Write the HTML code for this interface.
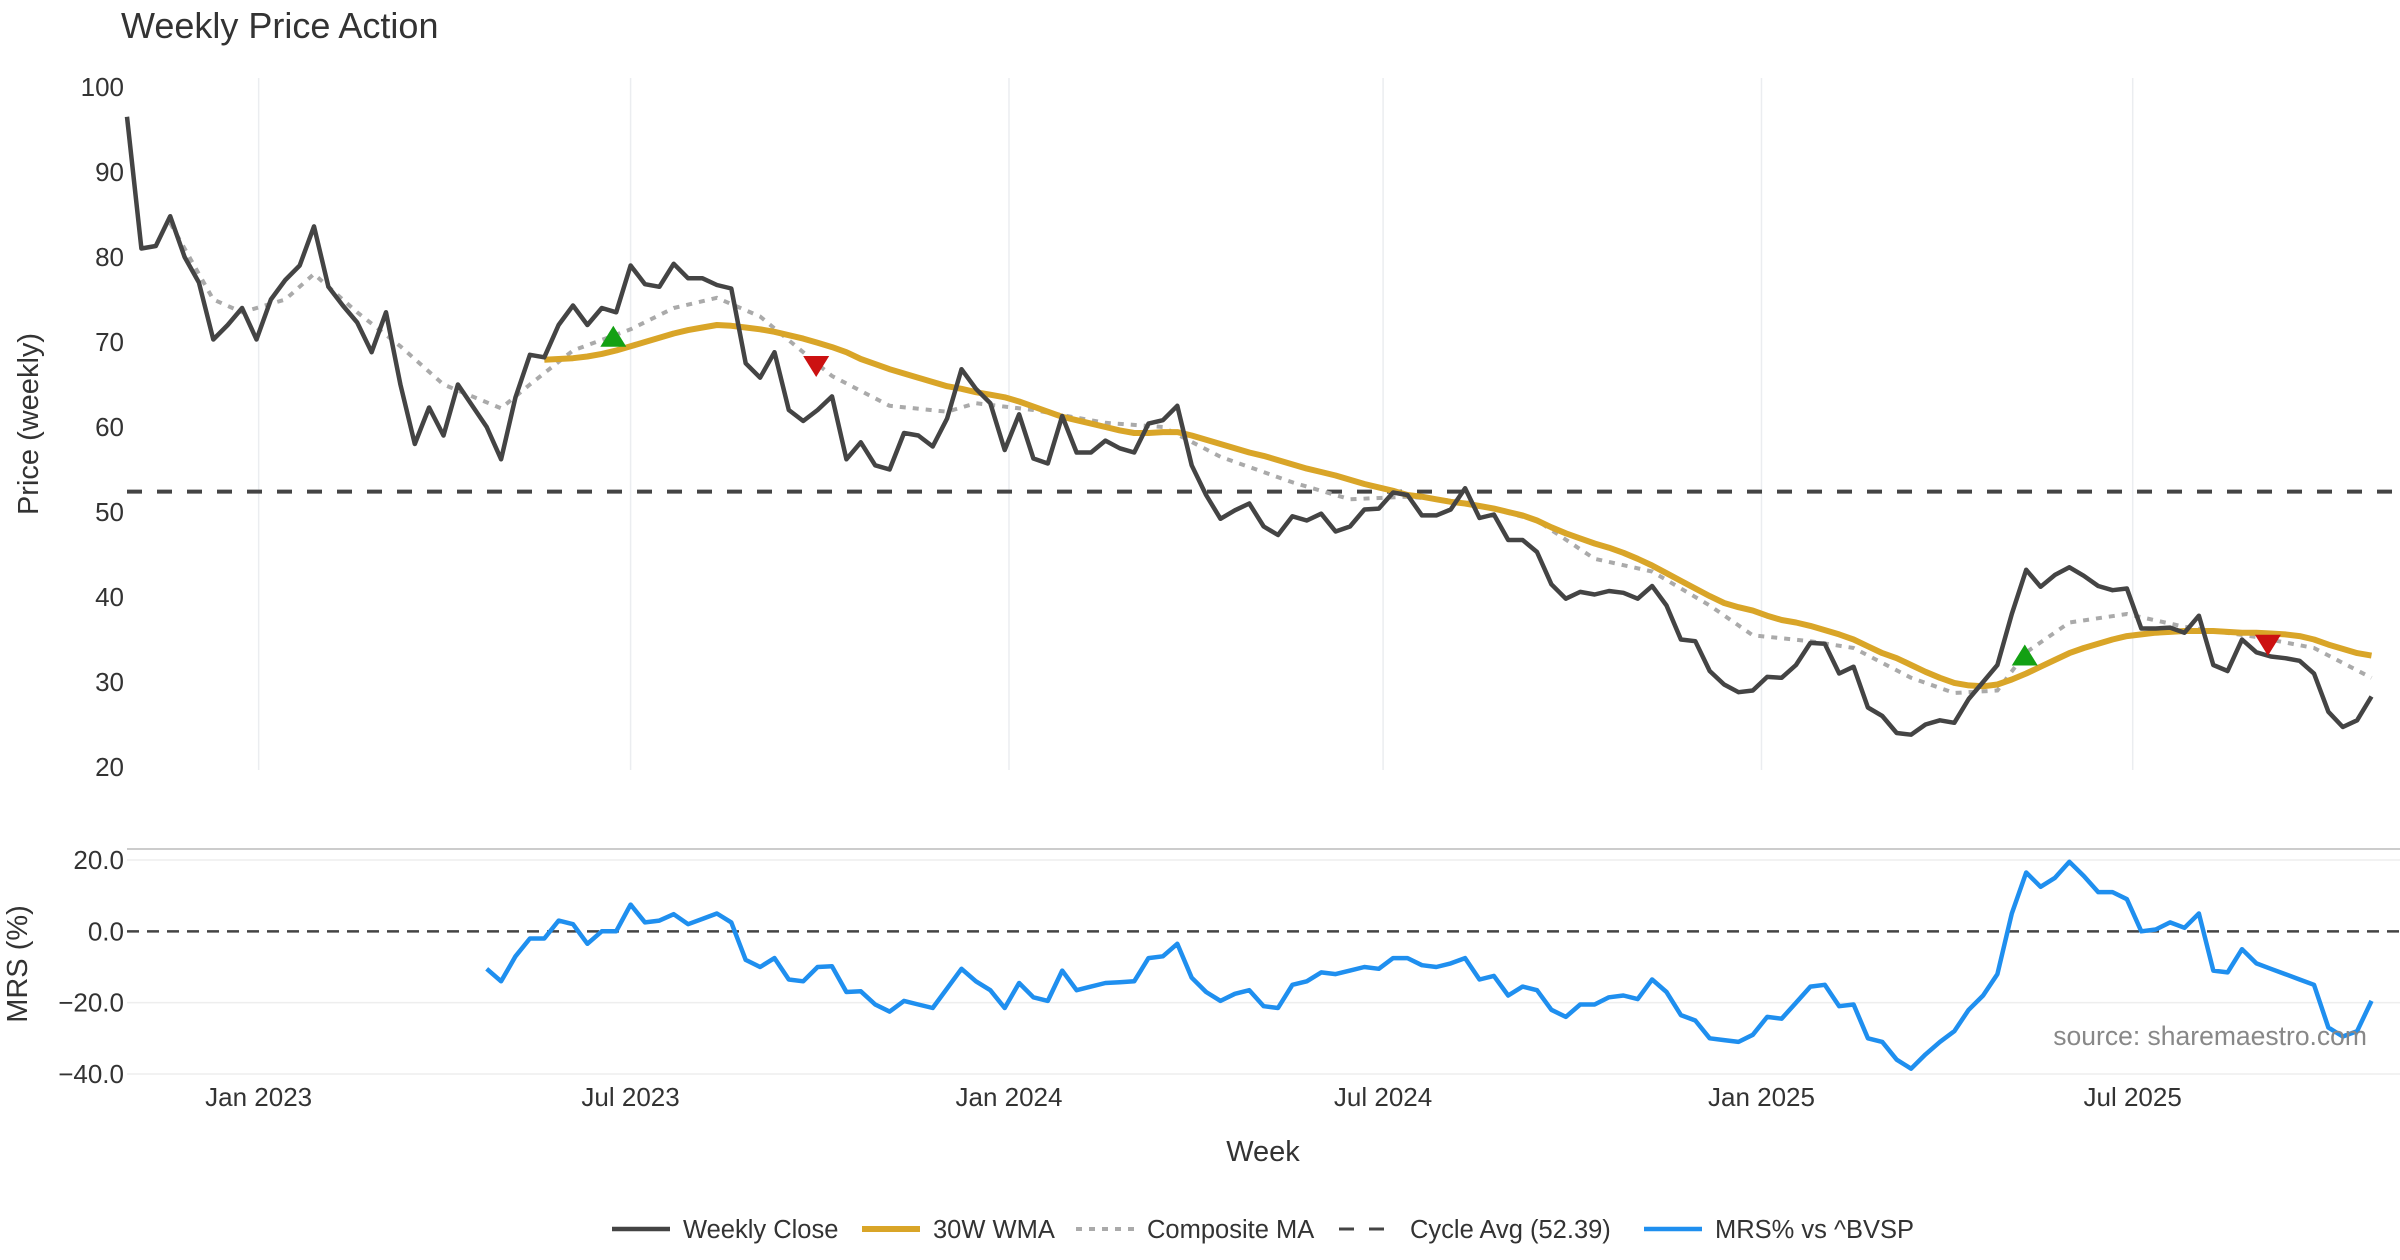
<!DOCTYPE html>
<html><head><meta charset="utf-8"><style>
html,body{margin:0;padding:0;background:#fff;}
svg{display:block;font-family:"Liberation Sans","DejaVu Sans",sans-serif;}
</style></head><body>
<svg id="chart" width="2400" height="1260" viewBox="0 0 2400 1260" xmlns="http://www.w3.org/2000/svg">
<text x="121" y="38" font-size="36" fill="#333">Weekly Price Action</text>
<g id="grid"></g><g id="series"></g><g id="axes"></g>
<text transform="translate(38,424) rotate(-90)" text-anchor="middle" font-size="29" fill="#333">Price (weekly)</text>
<text transform="translate(27,964) rotate(-90)" text-anchor="middle" font-size="29" fill="#333">MRS (%)</text>
<text x="1263" y="1161" text-anchor="middle" font-size="29" fill="#333">Week</text>
<text x="2367" y="1045" text-anchor="end" font-size="26.5" fill="#888">source: sharemaestro.com</text>
<g id="legend"></g>
</svg>
<script>
const closeVals=[96.5,81,81.3,84.8,80,77,70.3,72,74,70.3,75,77.3,79,83.6,76.5,74.3,72.3,68.8,73.5,65,58,62.3,59,65,62.5,60,56.2,63.5,68.5,68.2,72,74.3,72,74,73.5,79,76.8,76.5,79.2,77.5,77.5,76.7,76.3,67.5,65.8,68.8,62,60.7,62,63.6,56.2,58.2,55.5,55,59.3,59,57.7,61,66.8,64.5,62.8,57.3,61.5,56.3,55.7,61.3,57,57,58.4,57.5,57,60.4,60.8,62.5,55.5,52,49.2,50.2,51,48.3,47.3,49.5,49,49.8,47.7,48.3,50.3,50.4,52.3,52,49.6,49.6,50.3,52.8,49.3,49.7,46.7,46.7,45.3,41.5,39.8,40.6,40.3,40.7,40.5,39.8,41.3,39,35,34.8,31.3,29.7,28.8,29,30.6,30.5,32,34.6,34.5,31,31.8,27,26,24,23.8,25,25.5,25.2,28,30,32,38,43.2,41.2,42.6,43.5,42.5,41.3,40.8,41,36.3,36.3,36.4,35.8,37.8,32,31.3,35,33.5,33,32.8,32.5,31,26.5,24.7,25.5,28.3];
const wmaStart=29;
const wmaVals=[67.9,68.0,68.1,68.3,68.6,69.0,69.5,70.0,70.5,71.0,71.4,71.7,72.0,71.9,71.7,71.5,71.2,70.8,70.4,69.9,69.4,68.8,68.0,67.4,66.8,66.3,65.8,65.3,64.8,64.5,64.1,63.8,63.5,63.0,62.4,61.8,61.2,60.8,60.4,60.0,59.6,59.3,59.3,59.4,59.4,59.0,58.5,58.0,57.5,57.0,56.6,56.1,55.6,55.1,54.7,54.3,53.8,53.3,52.9,52.5,52.0,51.8,51.5,51.2,51.0,50.7,50.4,50.0,49.6,49.0,48.2,47.5,46.9,46.3,45.8,45.2,44.5,43.7,42.8,41.9,41.0,40.1,39.3,38.8,38.4,37.8,37.3,37.0,36.6,36.1,35.6,35.0,34.2,33.4,32.8,32.0,31.2,30.5,29.9,29.6,29.5,29.7,30.3,31.0,31.8,32.6,33.4,34.0,34.5,35.0,35.4,35.6,35.8,35.9,36.0,36.0,36.0,35.9,35.8,35.8,35.7,35.6,35.4,35.0,34.4,33.9,33.4,33.1];
const compIdx=[3,6,8,11,13,16,19,22,26,28,31,35,38,41,44,49,53,57,59,63,68,72,76,81,85,89,93,98,102,106,110,113,117,120,124,127,130,132,135,139,143,148,152,156];
const compVals=[84,75,73.5,75,78,73.5,69.5,65,62.2,65,69,71.5,74,75.2,73,66,62.5,61.8,62.8,62,60.5,60,56.5,53.5,51.5,51.8,51.2,49,44.5,43,39,35.5,34.8,34,30.5,28.7,29,33.5,37,38,36.5,35.3,34,30.5];
const mrsVals=[-10.5,-14,-7,-2,-2,3,2,-3.5,0,0,7.5,2.5,3,4.8,2,3.5,5,2.5,-8,-10,-7.5,-13.5,-14,-10,-9.8,-17,-16.8,-20.5,-22.5,-19.5,-20.5,-21.5,-16,-10.5,-14,-16.5,-21.5,-14.5,-18.5,-19.5,-11,-16.5,-15.5,-14.5,-14.3,-14,-7.5,-7,-3.5,-13,-17,-19.5,-17.5,-16.5,-21,-21.5,-15,-14,-11.5,-12,-11,-10,-10.5,-7.5,-7.5,-9.5,-10,-9,-7.5,-13.5,-12.5,-18,-15.5,-16.5,-22,-24,-20.5,-20.5,-18.5,-18,-19,-13.5,-17,-23.5,-25,-30,-30.5,-31,-29,-24,-24.5,-20,-15.5,-15,-21,-20.5,-30,-31,-36,-38.5,-34.5,-31,-28,-22,-18,-12,5,16.5,12.5,15,19.5,15.5,11,11,9,0,0.5,2.5,1,5,-11,-11.5,-5,-9,-10.5,-12,-13.5,-15,-27,-29.5,-28,-19.5];
const buyIdx=[33.8,131.9], buyVals=[70.5,33];
const sellIdx=[47.9,148.8], sellVals=[67.3,34.5];
const cycleAvg=52.39;
const priceTicks=[20,30,40,50,60,70,80,90,100];
const mrsTicks=[20,0,-20,-40];
const mrsTickLabels=["20.0","0.0","\u221220.0","\u221240.0"];
const xTickIdx=[9.15,35.0,61.3,87.3,113.6,139.4];
const xTickLabels=["Jan 2023","Jul 2023","Jan 2024","Jul 2024","Jan 2025","Jul 2025"];

const NS="http://www.w3.org/2000/svg";
const X=i=>127+i*14.388;
const YP=v=>767-(v-20)*(680/80);
const YM=v=>860+(20-v)*(214/60);
function mk(tag,attrs,parent){const e=document.createElementNS(NS,tag);for(const k in attrs)e.setAttribute(k,attrs[k]);parent.appendChild(e);return e;}
const grid=document.getElementById('grid'),ser=document.getElementById('series'),ax=document.getElementById('axes'),leg=document.getElementById('legend');

xTickIdx.forEach((t,k)=>{
 let l=mk('line',{x1:X(t),x2:X(t),y1:78,y2:770,stroke:'#ebedf0','stroke-width':1.5},grid);
 
 
 let tx=mk('text',{x:X(t),y:1106,'text-anchor':'middle','font-size':26,fill:'#333'},ax);tx.textContent=xTickLabels[k];
 
 
});
priceTicks.forEach(v=>{
 let tx=mk('text',{x:124,y:YP(v)+9,'text-anchor':'end','font-size':26,fill:'#333'},ax);tx.textContent=v;
 
 
});
let sep=mk('line',{x1:127,x2:2400,y1:849,y2:849,stroke:'#ccc','stroke-width':2},grid);


mrsTicks.forEach((v,k)=>{
 if(v!==0){let g=mk('line',{x1:127,x2:2400,y1:YM(v),y2:YM(v),stroke:'#eee','stroke-width':1.5},grid);
 
 }
 let tx=mk('text',{x:124,y:YM(v)+9,'text-anchor':'end','font-size':26,fill:'#333'},ax);tx.textContent=mrsTickLabels[k];
 
 
});
let z=mk('line',{x1:127,x2:2400,y1:YM(0),y2:YM(0),stroke:'#444','stroke-width':2.5,'stroke-dasharray':'12 8'},ser);


let cyc=mk('line',{x1:127,x2:2400,y1:YP(cycleAvg),y2:YP(cycleAvg),stroke:'#444','stroke-width':4,'stroke-dasharray':'15 15'},ser);



function poly(pts,attrs){const p=mk('polyline',Object.assign({points:pts.map(a=>a[0].toFixed(1)+','+a[1].toFixed(1)).join(' '),fill:'none','stroke-linejoin':'round'},attrs),ser);return p;}
let c=poly(compIdx.map((i,k)=>[X(i),YP(compVals[k])]),{stroke:'#aaa','stroke-width':4,'stroke-dasharray':'6 7'});


let w=poly(wmaVals.map((v,k)=>[X(wmaStart+k),YP(v)]),{stroke:'#d9a528','stroke-width':6});


let cl=poly(closeVals.map((v,k)=>[X(k),YP(v)]),{stroke:'#444','stroke-width':4.5});


const mStart=closeVals.length-mrsVals.length;
let m=poly(mrsVals.map((v,k)=>[X(mStart+k),YM(v)]),{stroke:'#1f8fef','stroke-width':4.5});


buyIdx.forEach((i,k)=>{const x=X(i),y=YP(buyVals[k]);
 let t=mk('polygon',{points:`${x-13},${y+9} ${x+13},${y+9} ${x},${y-12}`,fill:'#13a013'},ser);
 
 });
sellIdx.forEach((i,k)=>{const x=X(i),y=YP(sellVals[k]);
 let t=mk('polygon',{points:`${x-13},${y-9} ${x+13},${y-9} ${x},${y+12}`,fill:'#cc1111'},ser);
 
 });

const legItems=[["Weekly Close",612,{stroke:'#444','stroke-width':4.5}],["30W WMA",862,{stroke:'#d9a528','stroke-width':6}],["Composite MA",1076,{stroke:'#aaa','stroke-width':4,'stroke-dasharray':'6 7'}],["Cycle Avg (52.39)",1339,{stroke:'#444','stroke-width':3,'stroke-dasharray':'15 15'}],["MRS% vs ^BVSP",1644,{stroke:'#1f8fef','stroke-width':4.5}]];
legItems.forEach(it=>{
 const g=mk('g',{},leg);
 
 
 mk('line',Object.assign({x1:it[1],x2:it[1]+58,y1:1229,y2:1229},it[2]),g);
 const t=mk('text',{x:it[1]+71,y:1238,'font-size':25.5,fill:'#333'},g);t.textContent=it[0];
});
</script>
</body></html>
